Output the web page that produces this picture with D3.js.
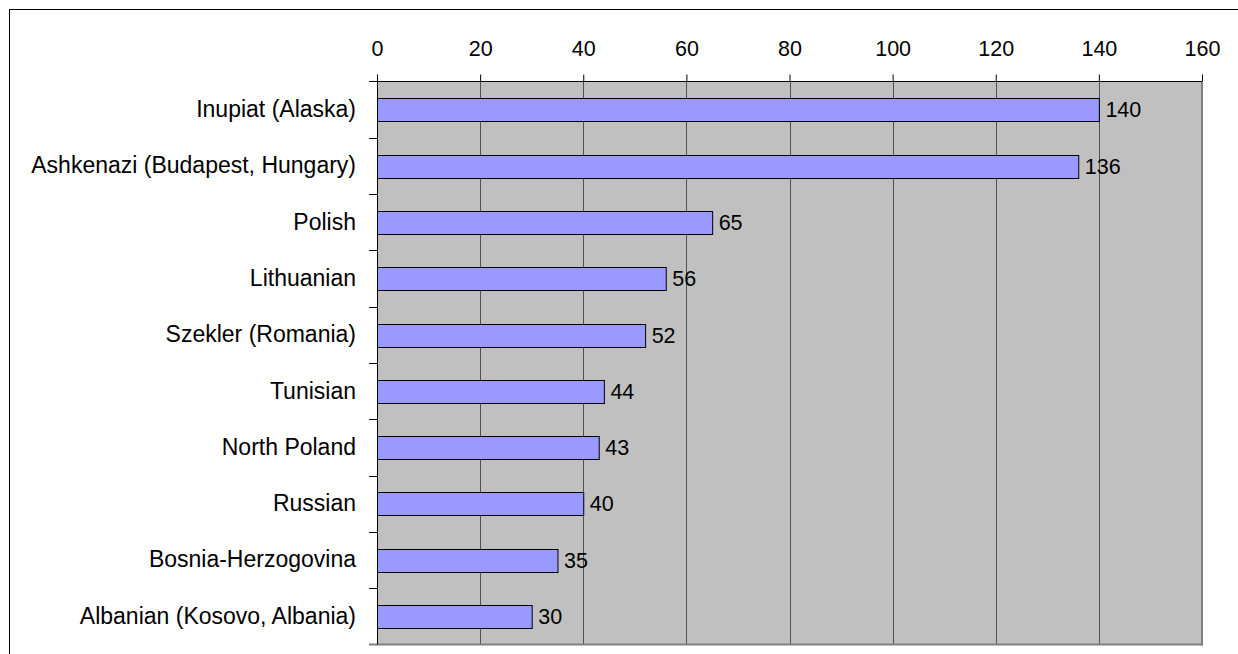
<!DOCTYPE html>
<html>
<head>
<meta charset="utf-8">
<script src="https://cdn.jsdelivr.net/npm/d3@7"></script>
<style>
  body { margin: 0; background: #fff; }
  text { font-family: "Liberation Sans", Arial, sans-serif; fill: #000; }
</style>
</head>
<body>
<div id="chart"></div>
<script>
var categories = ["Inupiat (Alaska)", "Ashkenazi (Budapest, Hungary)", "Polish", "Lithuanian",
    "Szekler (Romania)", "Tunisian", "North Poland", "Russian", "Bosnia-Herzogovina",
    "Albanian (Kosovo, Albania)"];
var values = [140, 136, 65, 56, 52, 44, 43, 40, 35, 30];
var xTicks = [0, 20, 40, 60, 80, 100, 120, 140, 160];

var svgWidth = 1238;
var svgHeight = 654;

var plot = { left: 377, right: 1202, top: 81.5, bottom: 644.5 };

var svg = d3.select("#chart").append("svg")
    .attr("width", svgWidth)
    .attr("height", svgHeight);

// outer frame
svg.append("rect")
    .attr("x", 9.5)
    .attr("y", 9.5)
    .attr("width", 1300)
    .attr("height", 800)
    .attr("fill", "none")
    .attr("stroke", "#000")
    .attr("stroke-width", 1);

var x = d3.scaleLinear()
    .domain([0, 160])
    .range([plot.left, plot.right]);

var y = d3.scaleBand()
    .domain(categories)
    .range([plot.top, plot.bottom])
    .paddingInner(0.6)
    .paddingOuter(0.3);

// plot background
svg.append("rect")
    .attr("x", plot.left)
    .attr("y", plot.top)
    .attr("width", plot.right - plot.left)
    .attr("height", plot.bottom - plot.top)
    .attr("fill", "#c0c0c0");

// gridlines
svg.append("g").selectAll("line")
    .data(xTicks.slice(1, -1))
    .enter()
    .append("line")
    .attr("x1", d => Math.round(x(d)) + 0.5)
    .attr("x2", d => Math.round(x(d)) + 0.5)
    .attr("y1", plot.top)
    .attr("y2", plot.bottom)
    .attr("stroke", "#505050")
    .attr("stroke-width", 1);

// right and bottom plot border
svg.append("line")
    .attr("x1", plot.right).attr("x2", plot.right)
    .attr("y1", plot.top).attr("y2", plot.bottom + 1)
    .attr("stroke", "#808080").attr("stroke-width", 2);
svg.append("line")
    .attr("x1", 369).attr("x2", plot.right + 1)
    .attr("y1", plot.bottom).attr("y2", plot.bottom)
    .attr("stroke", "#808080").attr("stroke-width", 2);

// bars
svg.append("g").selectAll("rect")
    .data(values)
    .enter()
    .append("rect")
    .attr("x", x(0) + 0.5)
    .attr("y", (d, i) => Math.round(y(categories[i])) + 0.5)
    .attr("width", d => x(d) - x(0))
    .attr("height", Math.round(y.bandwidth()))
    .attr("fill", "#9999ff")
    .attr("stroke", "#000")
    .attr("stroke-width", 1);

// value labels
svg.append("g").selectAll("text")
    .data(values)
    .enter()
    .append("text")
    .attr("x", d => x(d) + 6.5)
    .attr("y", (d, i) => y(categories[i]) + y.bandwidth() / 2)
    .attr("dy", "0.36em")
    .attr("font-size", "21.5px")
    .text(d => d);

// top axis
var topAxis = d3.axisTop(x)
    .tickValues(xTicks)
    .tickSize(7)
    .tickPadding(19);

var xAxis = svg.append("g")
    .attr("transform", `translate(0, ${plot.top})`)
    .call(topAxis);
xAxis.select(".domain").remove();
xAxis.selectAll(".tick line").attr("stroke", "#000");
xAxis.selectAll(".tick text")
    .attr("font-size", "21.5px")
    .attr("font-family", "Liberation Sans, Arial, sans-serif")
    .attr("fill", "#000");

svg.append("line")
    .attr("x1", 369).attr("x2", plot.right)
    .attr("y1", plot.top).attr("y2", plot.top)
    .attr("stroke", "#000");

// left axis
var leftAxis = d3.axisLeft(y)
    .tickSize(0)
    .tickPadding(21);

var yAxis = svg.append("g")
    .attr("transform", `translate(${plot.left}, 0)`)
    .call(leftAxis);
yAxis.select(".domain").remove();
yAxis.selectAll(".tick text")
    .attr("font-size", "23px")
    .attr("font-family", "Liberation Sans, Arial, sans-serif")
    .attr("fill", "#000");

// band boundary ticks
var bounds = d3.range(categories.length + 1).map(i => plot.top + i * y.step());
svg.append("g").selectAll("line")
    .data(bounds.slice(1, -1))
    .enter()
    .append("line")
    .attr("x1", 369).attr("x2", plot.left)
    .attr("y1", d => Math.round(d) + 0.5)
    .attr("y2", d => Math.round(d) + 0.5)
    .attr("stroke", "#000");

svg.append("line")
    .attr("x1", plot.left + 0.5).attr("x2", plot.left + 0.5)
    .attr("y1", plot.top).attr("y2", plot.bottom)
    .attr("stroke", "#000");
</script>
</body>
</html>
